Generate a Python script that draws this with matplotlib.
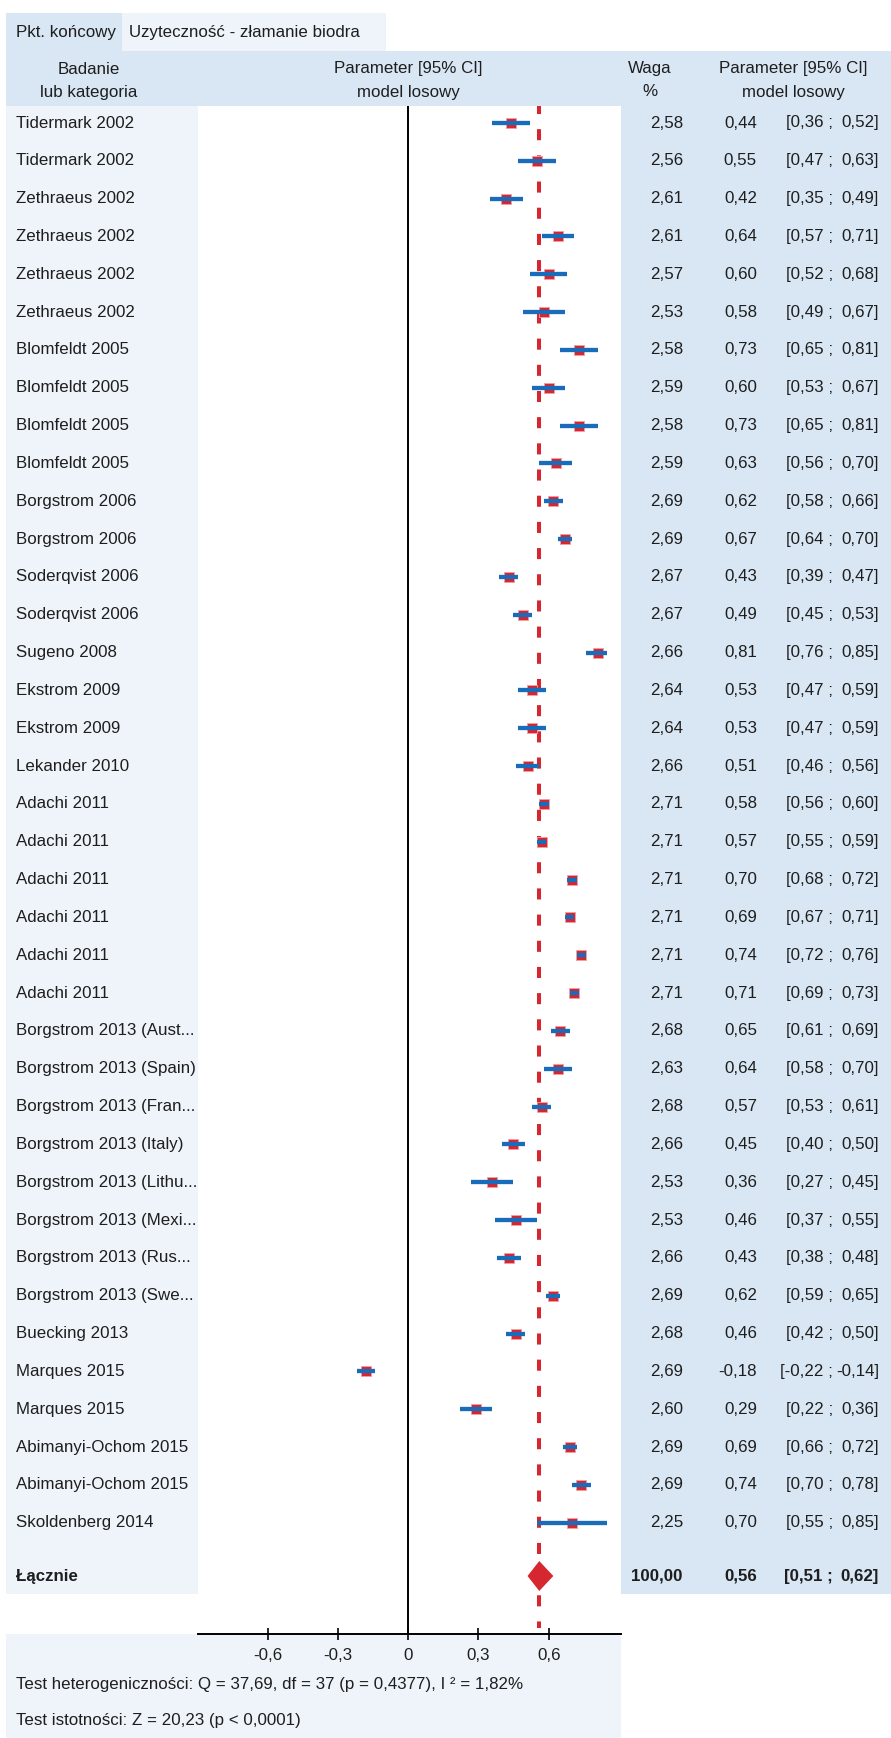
import matplotlib
matplotlib.use("Agg")
import matplotlib.pyplot as plt
from matplotlib.patches import Rectangle, Polygon

# ---- data ----
studies = [
    "Tidermark 2002", "Tidermark 2002", "Zethraeus 2002", "Zethraeus 2002",
    "Zethraeus 2002", "Zethraeus 2002", "Blomfeldt 2005", "Blomfeldt 2005",
    "Blomfeldt 2005", "Blomfeldt 2005", "Borgstrom 2006", "Borgstrom 2006",
    "Soderqvist 2006", "Soderqvist 2006", "Sugeno 2008", "Ekstrom 2009",
    "Ekstrom 2009", "Lekander 2010", "Adachi 2011", "Adachi 2011",
    "Adachi 2011", "Adachi 2011", "Adachi 2011", "Adachi 2011",
    "Borgstrom 2013 (Aust...", "Borgstrom 2013 (Spain)", "Borgstrom 2013 (Fran...",
    "Borgstrom 2013 (Italy)", "Borgstrom 2013 (Lithu...", "Borgstrom 2013 (Mexi...",
    "Borgstrom 2013 (Rus...", "Borgstrom 2013 (Swe...", "Buecking 2013",
    "Marques 2015", "Marques 2015", "Abimanyi-Ochom 2015", "Abimanyi-Ochom 2015",
    "Skoldenberg 2014",
]
weights = [2.58, 2.56, 2.61, 2.61, 2.57, 2.53, 2.58, 2.59, 2.58, 2.59, 2.69, 2.69,
           2.67, 2.67, 2.66, 2.64, 2.64, 2.66, 2.71, 2.71, 2.71, 2.71, 2.71, 2.71,
           2.68, 2.63, 2.68, 2.66, 2.53, 2.53, 2.66, 2.69, 2.68, 2.69, 2.60, 2.69,
           2.69, 2.25]
estimates = [0.44, 0.55, 0.42, 0.64, 0.60, 0.58, 0.73, 0.60, 0.73, 0.63, 0.62, 0.67,
             0.43, 0.49, 0.81, 0.53, 0.53, 0.51, 0.58, 0.57, 0.70, 0.69, 0.74, 0.71,
             0.65, 0.64, 0.57, 0.45, 0.36, 0.46, 0.43, 0.62, 0.46, -0.18, 0.29, 0.69,
             0.74, 0.70]
ci_low = [0.36, 0.47, 0.35, 0.57, 0.52, 0.49, 0.65, 0.53, 0.65, 0.56, 0.58, 0.64,
          0.39, 0.45, 0.76, 0.47, 0.47, 0.46, 0.56, 0.55, 0.68, 0.67, 0.72, 0.69,
          0.61, 0.58, 0.53, 0.40, 0.27, 0.37, 0.38, 0.59, 0.42, -0.22, 0.22, 0.66,
          0.70, 0.55]
ci_high = [0.52, 0.63, 0.49, 0.71, 0.68, 0.67, 0.81, 0.67, 0.81, 0.70, 0.66, 0.70,
           0.47, 0.53, 0.85, 0.59, 0.59, 0.56, 0.60, 0.59, 0.72, 0.71, 0.76, 0.73,
           0.69, 0.70, 0.61, 0.50, 0.45, 0.55, 0.48, 0.65, 0.50, -0.14, 0.36, 0.72,
           0.78, 0.85]
total_label = "Łącznie"
total_weight = 100.00
total_est = 0.56
total_low = 0.51
total_high = 0.62
x_ticks = [-0.6, -0.3, 0.0, 0.3, 0.6]
x_tick_labels = ["-0,6", "-0,3", "0", "0,3", "0,6"]
endpoint_key = "Pkt. końcowy"
endpoint_value = "Uzyteczność - złamanie biodra"
heterogeneity = "Test heterogeniczności: Q = 37,69, df = 37 (p = 0,4377), I ² = 1,82%"
significance = "Test istotności: Z = 20,23 (p < 0,0001)"

# ---- styling ----
W, H = 891, 1738
DPI = 100
FONT = ["Liberation Sans", "DejaVu Sans"]
FS = 12.2
TEXT_COLOR = "#1e1e1e"
HEADER_BG = "#d9e6f3"
LIGHT_BG = "#eef4fa"
RED = "#d62630"
BLUE = "#186cba"

plt.rcParams["font.family"] = FONT

fig = plt.figure(figsize=(W / DPI, H / DPI), dpi=DPI)
fig.patch.set_facecolor("white")


def fx(x):
    return x / W


def fy(y):
    return 1 - y / H


def box(x0, y0, x1, y1, color):
    fig.patches.append(Rectangle((fx(x0), fy(y1)), fx(x1) - fx(x0), fy(y0) - fy(y1),
                                 transform=fig.transFigure, facecolor=color,
                                 edgecolor="none", zorder=-10))


def ftext(x, y, s, ha="left", weight="normal"):
    fig.text(fx(x), fy(y), s, ha=ha, va="center", fontsize=FS, weight=weight,
             color=TEXT_COLOR)


# layout in pixels
PLOT_L, PLOT_R = 198, 621
ROWS_TOP = 106
AXIS_Y = 1634
ROW0_Y = 123
ROW_STEP = 37.83
TOTAL_Y = 1576
PANEL_BOTTOM = 1594

# background panels
box(6, 13, 122, 51, HEADER_BG)
box(122, 13, 386, 51, LIGHT_BG)
box(6, 51, W, ROWS_TOP, HEADER_BG)
box(6, ROWS_TOP, PLOT_L, PANEL_BOTTOM, LIGHT_BG)
box(PLOT_R, ROWS_TOP, W, PANEL_BOTTOM, HEADER_BG)
box(6, AXIS_Y, PLOT_R, H, LIGHT_BG)

ftext(16, 33, endpoint_key)
ftext(129, 33, endpoint_value)

# column headers
for cx, l1, l2 in [(89, "Badanie", "lub kategoria"),
                   (408, "Parameter [95% CI]", "model losowy"),
                   (650, "Waga", "%"),
                   (793, "Parameter [95% CI]", "model losowy")]:
    ftext(cx, 69, l1, ha="center")
    ftext(cx, 92, l2, ha="center")


def fmt(v):
    return f"{v:.2f}".replace(".", ",")


def row_text(y, name, w, est, lo, hi, weight="normal"):
    ftext(16, y, name, weight=weight)
    ftext(683, y, fmt(w), ha="right", weight=weight)
    ftext(757, y, fmt(est), ha="right", weight=weight)
    ftext(833, y, f"[{fmt(lo)} ;", ha="right", weight=weight)
    ftext(879, y, f"{fmt(hi)}]", ha="right", weight=weight)


# forest plot axes: y measured in pixels from the top of the figure
ax = fig.add_axes([fx(PLOT_L), fy(AXIS_Y), fx(PLOT_R) - fx(PLOT_L), fy(ROWS_TOP) - fy(AXIS_Y)])
ax.set_facecolor("white")
ax.set_xlim(-0.897, 0.909)
ax.set_ylim(AXIS_Y, ROWS_TOP)
for side in ("top", "left", "right"):
    ax.spines[side].set_visible(False)
ax.spines["bottom"].set_linewidth(1.4)
ax.set_yticks([])
ax.set_xticks(x_ticks)
ax.set_xticklabels(x_tick_labels, fontsize=FS, color=TEXT_COLOR)
ax.tick_params(axis="x", direction="inout", length=8, width=1.2, pad=6)

ax.axvline(0, color="black", lw=1.4, zorder=1)
ax.vlines(total_est, ROWS_TOP, AXIS_Y - 6, color=RED, lw=2.9,
          linestyles=(0.75, (2.75, 3.75)), zorder=2)

for i, name in enumerate(studies):
    y = ROW0_Y + i * ROW_STEP
    ax.scatter([estimates[i]], [y], marker="s", s=44, color=RED, edgecolors="#f0a0a4",
               linewidths=0.6, zorder=3)
    ax.hlines(y, ci_low[i], ci_high[i], color=BLUE, lw=3.1, zorder=4)
    row_text(y, name, weights[i], estimates[i], ci_low[i], ci_high[i])

dh = 15
ax.add_patch(Polygon([(total_low, TOTAL_Y), (total_est, TOTAL_Y - dh),
                      (total_high, TOTAL_Y), (total_est, TOTAL_Y + dh)],
                     closed=True, facecolor=RED, edgecolor="none", zorder=4))
row_text(TOTAL_Y, total_label, total_weight, total_est, total_low, total_high,
         weight="bold")

ftext(16, 1684, heterogeneity)
ftext(16, 1721, significance)

fig.savefig("out.png", dpi=DPI)
